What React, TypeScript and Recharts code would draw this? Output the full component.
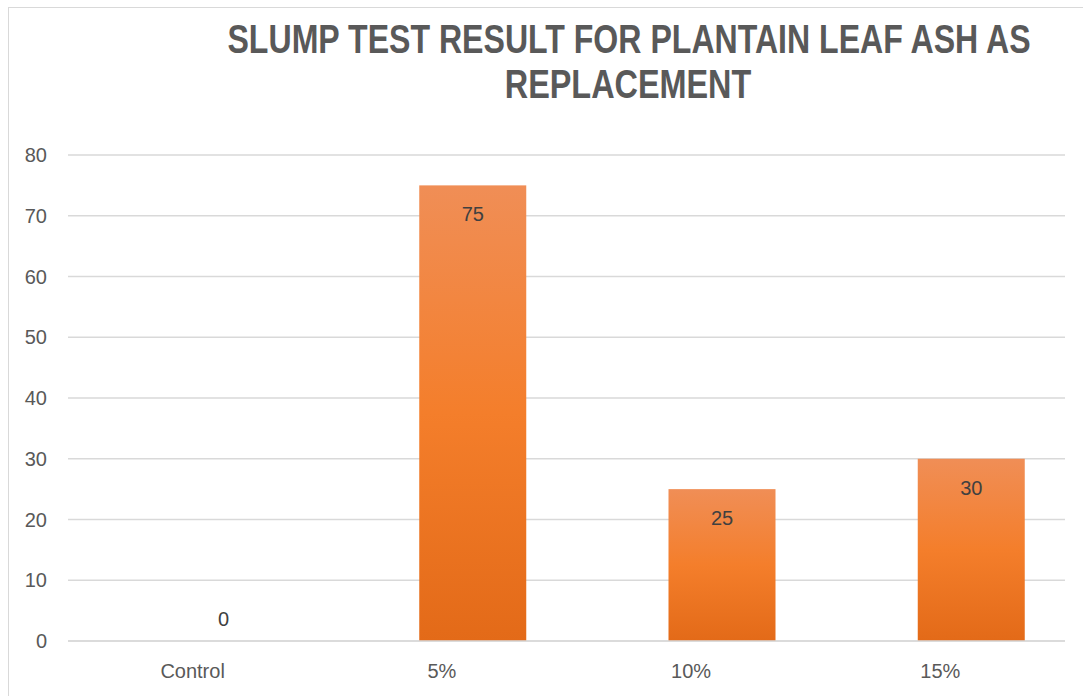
import React from 'react';
import { BarChart, Bar, XAxis, YAxis, CartesianGrid, LabelList } from 'recharts';

const categories = ['Control', '5%', '10%', '15%'];
const slumpValues = [0, 75, 25, 30];
const yTicks = [0, 10, 20, 30, 40, 50, 60, 70, 80];
const titleLines = ['SLUMP TEST RESULT FOR PLANTAIN LEAF ASH AS', 'REPLACEMENT'];

const data = categories.map((name, i) => ({ name, slump: slumpValues[i] }));

const BAR_SHIFT = 31;
const TEXT = '#595959';
const FONT = 'Liberation Sans, Arial, sans-serif';
const TITLE_FONT = '"Liberation Sans", Arial, sans-serif';

const ShiftedBar = (props: any) => {
  const { x, y, width, height } = props;
  if (!height || height <= 0) return null;
  return <rect x={x + BAR_SHIFT} y={y} width={width} height={height} fill="url(#barFill)" />;
};

const BarValue = (props: any) => {
  const { x, y, width, value } = props;
  const cx = x + width / 2 + BAR_SHIFT;
  const cy = value === 0 ? y - 22 : y + 29;
  return (
    <text x={cx} y={cy} dy="0.35em" textAnchor="middle" fill="#404040" fontSize={20} fontFamily={FONT}>
      {value}
    </text>
  );
};

const XTick = (props: any) => {
  const { x, y, payload } = props;
  return (
    <text x={x} y={y + 22} dy="0.35em" textAnchor="middle" fill={TEXT} fontSize={20} fontFamily={FONT}>
      {payload.value}
    </text>
  );
};

const YTick = (props: any) => {
  const { y, payload } = props;
  return (
    <text x={47} y={y} dy="0.35em" textAnchor="end" fill={TEXT} fontSize={20} fontFamily={FONT}>
      {payload.value}
    </text>
  );
};

export default function App() {
  return (
    <div style={{ position: 'fixed', left: 0, top: 0, width: 1083, height: 696, overflow: 'hidden', background: '#fff' }}>
      <div
        style={{
          position: 'absolute',
          left: 8,
          top: 7,
          width: 1100,
          height: 720,
          border: '1px solid #D9D9D9',
          boxSizing: 'border-box',
        }}
      />
      <svg width={1083} height={110} style={{ position: 'absolute', left: 0, top: 0 }}>
        <g transform="translate(629,53) scale(0.802,1)">
          <text x={0} y={0} textAnchor="middle" fill={TEXT} fontSize={40} fontWeight="bold" fontFamily={TITLE_FONT}>
            {titleLines[0]}
          </text>
        </g>
        <g transform="translate(628,98) scale(0.81,1)">
          <text x={0} y={0} textAnchor="middle" fill={TEXT} fontSize={40} fontWeight="bold" fontFamily={TITLE_FONT}>
            {titleLines[1]}
          </text>
        </g>
      </svg>
      <div style={{ position: 'absolute', left: 0, top: 0 }}>
        <BarChart
          width={1083}
          height={696}
          data={data}
          margin={{ top: 155, right: 18, bottom: 25, left: 8 }}
          barSize={107}
        >
          <defs>
            <linearGradient id="barFill" x1="0" y1="0" x2="0" y2="1">
              <stop offset="0%" stopColor="#F08E56" />
              <stop offset="50%" stopColor="#F47E2B" />
              <stop offset="100%" stopColor="#E36A18" />
            </linearGradient>
          </defs>
          <CartesianGrid vertical={false} stroke="#D9D9D9" strokeWidth={1.5} />
          <XAxis
            dataKey="name"
            axisLine={{ stroke: '#D9D9D9', strokeWidth: 1.5 }}
            tickLine={false}
            tick={<XTick />}
            height={30}
          />
          <YAxis
            domain={[0, 80]}
            ticks={yTicks}
            axisLine={false}
            tickLine={false}
            tick={<YTick />}
            width={60}
          />
          <Bar dataKey="slump" shape={<ShiftedBar />} isAnimationActive={false}>
            <LabelList dataKey="slump" content={<BarValue />} />
          </Bar>
        </BarChart>
      </div>
    </div>
  );
}
